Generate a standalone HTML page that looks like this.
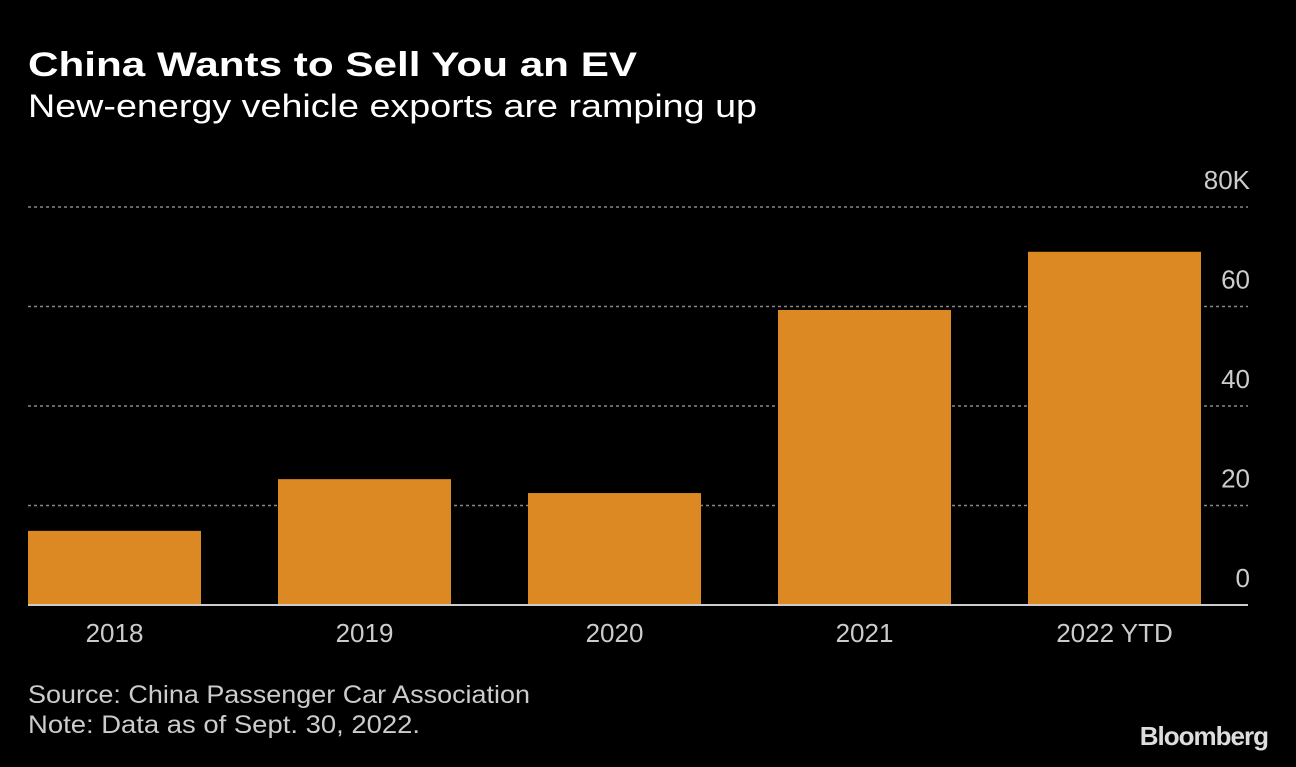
<!DOCTYPE html>
<html><head><meta charset="utf-8"><style>
body{margin:0;background:#000;width:1296px;height:762px;overflow:hidden;font-family:"Liberation Sans",sans-serif;color:#fff}
</style></head><body>
<svg width="1296" height="762" xmlns="http://www.w3.org/2000/svg">
<rect width="1296" height="762" fill="#000"/>
<text x="28" y="76" font-size="34" font-weight="bold" fill="#fff" font-family="Liberation Sans, sans-serif" textLength="609" lengthAdjust="spacingAndGlyphs">China Wants to Sell You an EV</text>
<text x="28" y="117" font-size="32" fill="#fff" font-family="Liberation Sans, sans-serif" textLength="729" lengthAdjust="spacingAndGlyphs">New-energy vehicle exports are ramping up</text>
<g id="grid"></g>
<g id="bars"></g>
<line x1="28" y1="605" x2="1248" y2="605" stroke="#ccc" stroke-width="2"/>
<g id="labels"></g>
<text x="28" y="703" font-size="25" fill="#ccc" font-family="Liberation Sans, sans-serif" textLength="502" lengthAdjust="spacingAndGlyphs">Source: China Passenger Car Association</text>
<text x="28" y="733" font-size="25" fill="#ccc" font-family="Liberation Sans, sans-serif" textLength="392" lengthAdjust="spacingAndGlyphs">Note: Data as of Sept. 30, 2022.</text>
<text x="1268" y="745" font-size="26" font-weight="bold" fill="#ddd" text-anchor="end" font-family="Liberation Sans, sans-serif" letter-spacing="-1">Bloomberg</text>
</svg>
<script>
const categories = ["2018","2019","2020","2021","2022 YTD"];
const values = [14.9, 25.3, 22.5, 59.3, 71.0];
const tickValues = [0,20,40,60,80];
const tickLabels = ["0","20","40","60","80K"];
const NS="http://www.w3.org/2000/svg";
const y0=605, yTop=207, vMax=80;
const yScale=v=>y0-(v/vMax)*(y0-yTop);
const step=250, bw=173, left=28;
const xScale=i=>left+i*step;
const grid=document.getElementById('grid'), bars=document.getElementById('bars'), labels=document.getElementById('labels');
function mk(t,a){const e=document.createElementNS(NS,t);for(const k in a)e.setAttribute(k,a[k]);return e;}
tickValues.forEach((v,i)=>{
  const y=yScale(v);
  if(v>0){const l=mk('line',{x1:28,x2:1248,y1:y,y2:y,stroke:'#888','stroke-width':1.5,'stroke-dasharray':'3,3'});
  
  
  grid.appendChild(l);}
  const t=mk('text',{x:1250,y:y-18,'font-size':26,fill:'#ccc','text-anchor':'end','font-family':'Liberation Sans, sans-serif'});
  t.textContent=tickLabels[i];
  
  
  labels.appendChild(t);
});
categories.forEach((c,i)=>{
  const x=xScale(i), y=yScale(values[i]);
  const r=mk('rect',{x:x,y:y,width:bw,height:y0-y,fill:'#dc8924'});
  
  
  bars.appendChild(r);
  const t=mk('text',{x:x+bw/2,y:642,'font-size':26,fill:'#ccc','text-anchor':'middle','font-family':'Liberation Sans, sans-serif'});
  t.textContent=c;
  
  
  labels.appendChild(t);
});
</script>
</body></html>
